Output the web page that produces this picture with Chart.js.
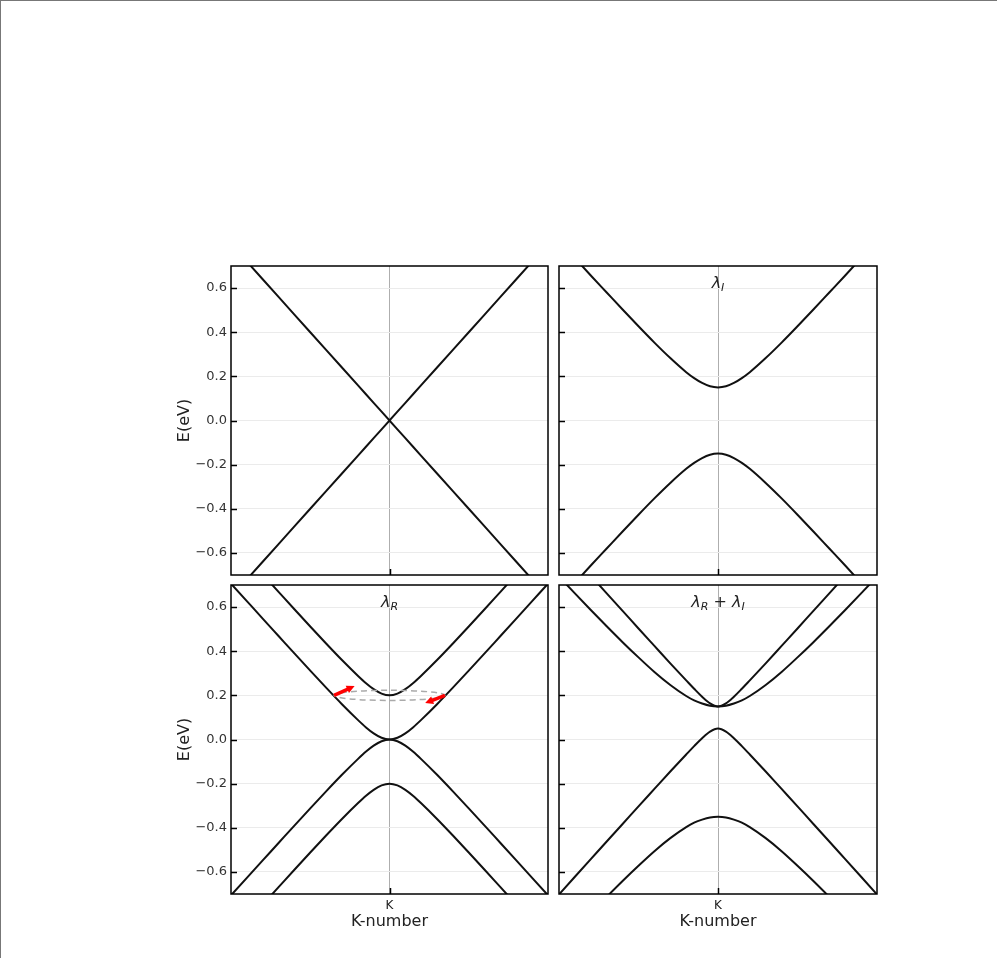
<!DOCTYPE html>
<html>
<head>
<meta charset="utf-8">
<script src="https://cdn.jsdelivr.net/npm/chart.js@4"></script>
<style>
  body { margin: 0; background: #fff; }
  #fig { position: relative; width: 997px; height: 958px; box-sizing: border-box;
         border-top: 1px solid #777; border-left: 1px solid #777; }
  .panel { position: absolute; }
</style>
</head>
<body>
<div id="fig">
  <div class="panel" style="left:159px;top:255px;width:398px;height:329px"><canvas id="c1"></canvas></div>
  <div class="panel" style="left:548px;top:255px;width:338px;height:329px"><canvas id="c2"></canvas></div>
  <div class="panel" style="left:159px;top:574px;width:398px;height:375px"><canvas id="c3"></canvas></div>
  <div class="panel" style="left:548px;top:574px;width:338px;height:375px"><canvas id="c4"></canvas></div>
</div>
<script>
// k points (K at 0), finer near K
const kPoints = [-1, -0.9, -0.8, -0.7, -0.6, -0.5, -0.4, -0.3, -0.2, -0.15, -0.1, -0.05, 0,
                 0.05, 0.1, 0.15, 0.2, 0.3, 0.4, 0.5, 0.6, 0.7, 0.8, 0.9, 1];
const yTicks = [-0.6, -0.4, -0.2, 0.0, 0.2, 0.4, 0.6];

// panel 1: no coupling (Dirac cone)
const bare_c = [0.8, 0.72, 0.64, 0.56, 0.48, 0.4, 0.32, 0.24, 0.16, 0.12, 0.08, 0.04, 0,
                0.04, 0.08, 0.12, 0.16, 0.24, 0.32, 0.4, 0.48, 0.56, 0.64, 0.72, 0.8];
const bare_v = [-0.8, -0.72, -0.64, -0.56, -0.48, -0.4, -0.32, -0.24, -0.16, -0.12, -0.08, -0.04, 0,
                -0.04, -0.08, -0.12, -0.16, -0.24, -0.32, -0.4, -0.48, -0.56, -0.64, -0.72, -0.8];

// panel 2: lambda_I
const soI_c = [0.814, 0.736, 0.657, 0.580, 0.503, 0.427, 0.353, 0.283, 0.219, 0.192, 0.170, 0.155, 0.15,
               0.155, 0.170, 0.192, 0.219, 0.283, 0.353, 0.427, 0.503, 0.580, 0.657, 0.736, 0.814];
const soI_v = [-0.814, -0.736, -0.657, -0.580, -0.503, -0.427, -0.353, -0.283, -0.219, -0.192, -0.170, -0.155, -0.15,
               -0.155, -0.170, -0.192, -0.219, -0.283, -0.353, -0.427, -0.503, -0.580, -0.657, -0.736, -0.814];

// panel 3: lambda_R
const rR_c2 = [0.906, 0.827, 0.748, 0.669, 0.590, 0.512, 0.435, 0.360, 0.289, 0.256, 0.228, 0.208, 0.2,
               0.208, 0.228, 0.256, 0.289, 0.360, 0.435, 0.512, 0.590, 0.669, 0.748, 0.827, 0.906];
const rR_c1 = [0.706, 0.627, 0.548, 0.469, 0.390, 0.312, 0.235, 0.160, 0.089, 0.056, 0.028, 0.008, 0,
               0.008, 0.028, 0.056, 0.089, 0.160, 0.235, 0.312, 0.390, 0.469, 0.548, 0.627, 0.706];
const rR_v1 = [-0.706, -0.627, -0.548, -0.469, -0.390, -0.312, -0.235, -0.160, -0.089, -0.056, -0.028, -0.008, 0,
               -0.008, -0.028, -0.056, -0.089, -0.160, -0.235, -0.312, -0.390, -0.469, -0.548, -0.627, -0.706];
const rR_v2 = [-0.906, -0.827, -0.748, -0.669, -0.590, -0.512, -0.435, -0.360, -0.289, -0.256, -0.228, -0.208, -0.2,
               -0.208, -0.228, -0.256, -0.289, -0.360, -0.435, -0.512, -0.590, -0.669, -0.748, -0.827, -0.906];

// panel 4: lambda_R + lambda_I
const rI_c2 = [0.902, 0.822, 0.742, 0.662, 0.583, 0.503, 0.424, 0.345, 0.268, 0.230, 0.194, 0.164, 0.15,
               0.164, 0.194, 0.230, 0.268, 0.345, 0.424, 0.503, 0.583, 0.662, 0.742, 0.822, 0.902];
const rI_c1 = [0.738, 0.662, 0.587, 0.513, 0.441, 0.372, 0.306, 0.247, 0.197, 0.177, 0.163, 0.153, 0.15,
               0.153, 0.163, 0.177, 0.197, 0.247, 0.306, 0.372, 0.441, 0.513, 0.587, 0.662, 0.738];
const rI_v1 = [-0.702, -0.622, -0.542, -0.462, -0.383, -0.303, -0.224, -0.145, -0.068, -0.030, 0.006, 0.036, 0.05,
               0.036, 0.006, -0.030, -0.068, -0.145, -0.224, -0.303, -0.383, -0.462, -0.542, -0.622, -0.702];
const rI_v2 = [-0.938, -0.862, -0.787, -0.713, -0.641, -0.572, -0.506, -0.447, -0.397, -0.377, -0.363, -0.353, -0.35,
               -0.353, -0.363, -0.377, -0.397, -0.447, -0.506, -0.572, -0.641, -0.713, -0.787, -0.862, -0.938];

// spin-flip sketch in the lambda_R panel (data units)
const ellipseCenter = [0, 0.2];
const ellipseRadii = [0.35, 0.023];
const arrowLeft = [-0.35, 0.2, -0.22, 0.242];
const arrowRight = [0.35, 0.2, 0.225, 0.165];

function toPts(ys) {
  return kPoints.map((k, i) => ({ x: k, y: ys[i] }));
}

function band(ys, straight) {
  return {
    data: toPts(ys),
    borderColor: "#111",
    borderWidth: 2,
    pointRadius: 0,
    fill: false,
    tension: 0,
    cubicInterpolationMode: straight ? "default" : "monotone",
  };
}

// frame, inward ticks, panel label, arrows
const decorPlugin = {
  id: "decor",
  afterDraw(chart) {
    const ctx = chart.ctx;
    const a = chart.chartArea;
    const xs = chart.scales.x;
    const ys = chart.scales.y;
    const opts = chart.options.plugins.decor;
    ctx.save();

    // sketch first (under frame)
    if (opts.sketch) {
      const cx = xs.getPixelForValue(ellipseCenter[0]);
      const cy = ys.getPixelForValue(ellipseCenter[1]);
      const rx = xs.getPixelForValue(ellipseRadii[0]) - xs.getPixelForValue(0);
      const ry = ys.getPixelForValue(0) - ys.getPixelForValue(ellipseRadii[1]);
      ctx.strokeStyle = "#aaa";
      ctx.lineWidth = 1.5;
      ctx.setLineDash([6, 4]);
      ctx.beginPath();
      ctx.ellipse(cx, cy, rx, ry, 0, 0, Math.PI * 2);
      ctx.stroke();
      ctx.setLineDash([]);
      [arrowLeft, arrowRight].forEach((ar) => {
        const x0 = xs.getPixelForValue(ar[0]);
        const y0 = ys.getPixelForValue(ar[1]);
        const x1 = xs.getPixelForValue(ar[2]);
        const y1 = ys.getPixelForValue(ar[3]);
        const ang = Math.atan2(y1 - y0, x1 - x0);
        const c = Math.cos(ang), s = Math.sin(ang);
        ctx.strokeStyle = "#f00";
        ctx.fillStyle = "#f00";
        ctx.lineWidth = 3.5;
        ctx.beginPath();
        ctx.moveTo(x0, y0);
        ctx.lineTo(x1 - 5 * c, y1 - 5 * s);
        ctx.stroke();
        ctx.beginPath();
        ctx.moveTo(x1, y1);
        ctx.lineTo(x1 - 8 * c + 4 * s, y1 - 8 * s - 4 * c);
        ctx.lineTo(x1 - 8 * c - 4 * s, y1 - 8 * s + 4 * c);
        ctx.closePath();
        ctx.fill();
      });
    }

    // inward ticks
    ctx.strokeStyle = "#000";
    ctx.lineWidth = 1.5;
    yTicks.forEach((v) => {
      const y = Math.round(ys.getPixelForValue(v)) + 0.5;
      ctx.beginPath();
      ctx.moveTo(a.left, y);
      ctx.lineTo(a.left + 6, y);
      ctx.stroke();
    });
    const kx = Math.round(xs.getPixelForValue(0)) + 0.5;
    ctx.beginPath();
    ctx.moveTo(kx, a.bottom);
    ctx.lineTo(kx, a.bottom - 6);
    ctx.stroke();

    // frame
    ctx.lineWidth = 1.5;
    ctx.strokeRect(a.left, a.top, a.right - a.left, a.bottom - a.top);

    // panel label, e.g. lambda_R + lambda_I
    if (opts.label) {
      const parts = opts.label;
      const big = "italic 16px 'DejaVu Sans'";
      const small = "italic 11px 'DejaVu Sans'";
      let w = 0;
      parts.forEach((p) => {
        ctx.font = p.sub ? small : big;
        w += ctx.measureText(p.t).width;
      });
      let x = xs.getPixelForValue(0) - w / 2;
      const y = ys.getPixelForValue(0.6);
      ctx.fillStyle = "#222";
      ctx.textBaseline = "alphabetic";
      parts.forEach((p) => {
        ctx.font = p.sub ? small : big;
        ctx.fillText(p.t, x, y + (p.sub ? 3 : 0));
        x += ctx.measureText(p.t).width;
      });
    }
    ctx.restore();
  },
};

function makePanel(id, series, cfg) {
  new Chart(document.getElementById(id), {
    type: "line",
    data: { datasets: series.map((s) => band(s, cfg.straight)) },
    options: {
      responsive: true,
      maintainAspectRatio: false,
      animation: false,
      events: [],
      layout: { padding: { top: 10, right: 10, left: 0, bottom: 0 } },
      plugins: {
        legend: { display: false },
        tooltip: { enabled: false },
        decor: { label: cfg.label, sketch: cfg.sketch },
      },
      scales: {
        x: {
          type: "linear",
          min: -1,
          max: 1,
          afterBuildTicks: (s) => { s.ticks = [{ value: 0 }]; },
          afterFit: (s) => {
            s.height = cfg.bottom ? 56 : 10;
            s.paddingLeft = 0;
            s.paddingRight = 0;
          },
          ticks: {
            display: cfg.bottom,
            callback: () => "K",
            color: "#222",
            font: { family: "DejaVu Sans", size: 12 },
            padding: 5,
            maxRotation: 0,
          },
          grid: { color: "#999", lineWidth: 0.8, drawTicks: false },
          border: { display: false },
          title: {
            display: cfg.bottom,
            text: "K-number",
            color: "#222",
            font: { family: "DejaVu Sans", size: 16 },
            padding: { top: 0, bottom: 19 },
          },
        },
        y: {
          min: -0.7,
          max: 0.7,
          afterBuildTicks: (s) => { s.ticks = yTicks.map((v) => ({ value: v })); },
          afterFit: (s) => {
            s.width = cfg.left ? 71 : 10;
            s.paddingTop = 0;
            s.paddingBottom = 0;
          },
          ticks: {
            display: cfg.left,
            callback: (v) => (v < 0 ? "\u2212" : "") + Math.abs(v).toFixed(1),
            color: "#333",
            font: { family: "DejaVu Sans", size: 13 },
            padding: 4,
          },
          grid: { color: "#ebebeb", lineWidth: 1, drawTicks: false },
          border: { display: false },
          title: {
            display: cfg.left,
            text: "E(eV)",
            color: "#222",
            font: { family: "DejaVu Sans", size: 16 },
            padding: { top: 15, bottom: 0 },
          },
        },
      },
    },
    plugins: [decorPlugin],
  });
}

makePanel("c1", [bare_c, bare_v], { left: true, bottom: false, straight: true });
makePanel("c2", [soI_c, soI_v], { left: false, bottom: false,
  label: [{ t: "\u03bb" }, { t: "I", sub: true }] });
makePanel("c3", [rR_c2, rR_c1, rR_v1, rR_v2], { left: true, bottom: true, sketch: true,
  label: [{ t: "\u03bb" }, { t: "R", sub: true }] });
makePanel("c4", [rI_c2, rI_c1, rI_v1, rI_v2], { left: false, bottom: true,
  label: [{ t: "\u03bb" }, { t: "R", sub: true }, { t: " + " }, { t: "\u03bb" }, { t: "I", sub: true }] });
</script>
</body>
</html>
